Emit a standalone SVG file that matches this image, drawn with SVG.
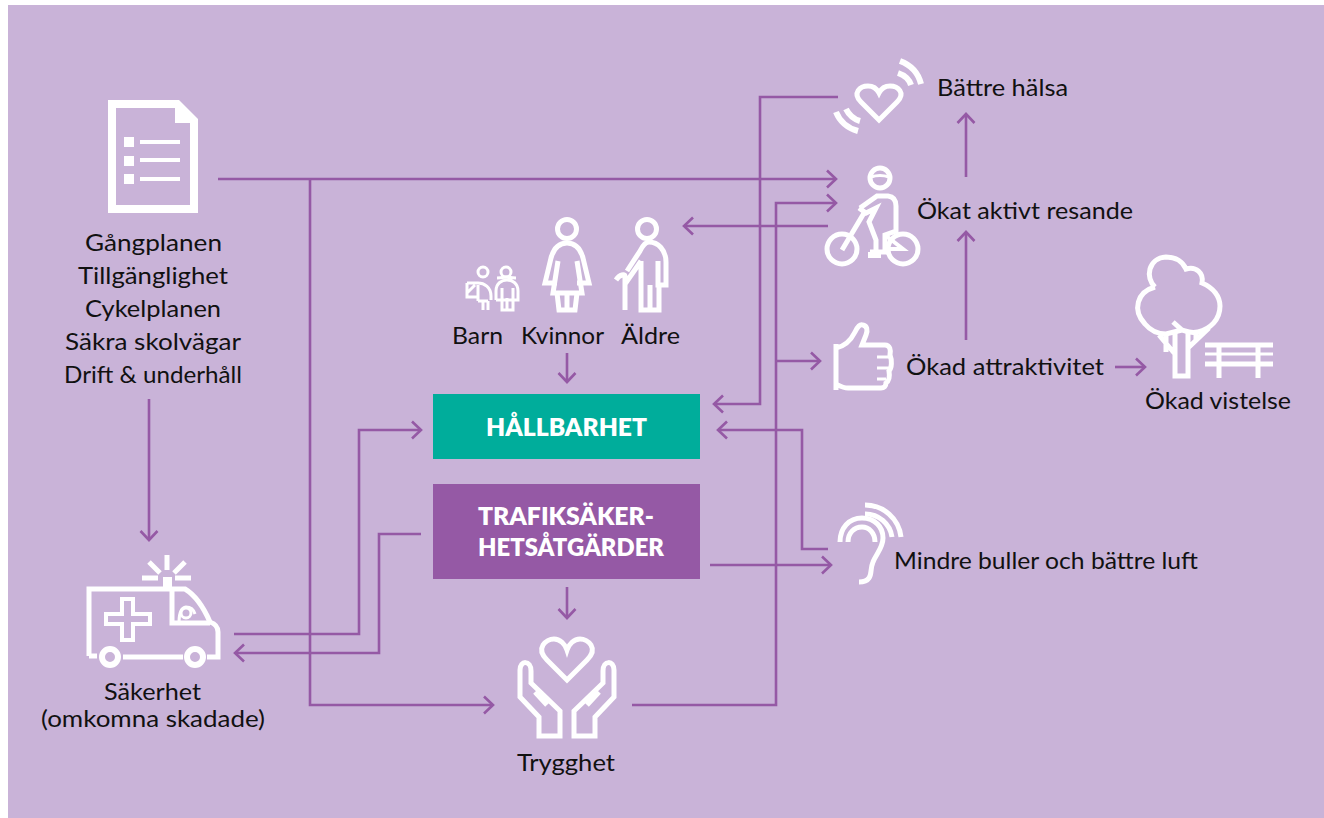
<svg xmlns="http://www.w3.org/2000/svg" width="1324" height="818" viewBox="0 0 1324 818">
<defs>
<marker id="a" markerUnits="userSpaceOnUse" markerWidth="24" markerHeight="24" refX="20" refY="12" orient="auto"><path d="M11 3.500L20 12L11 20.500" fill="none" stroke="#9559a5" stroke-width="2.600"/></marker>
</defs>
<style>
.c{fill:none;stroke:#9559a5;stroke-width:2.600;marker-end:url(#a)}
.i{fill:none;stroke:#fff;stroke-width:5}
.i6{fill:none;stroke:#fff;stroke-width:6}
.i4{fill:none;stroke:#fff;stroke-width:4}
.i3{fill:none;stroke:#fff;stroke-width:3}
.f{fill:#fff;stroke:none}
text{font-family:"Lato","Noto Sans",sans-serif;font-size:24px;fill:#111}
.s{font-size:22.500px}
.b{font-weight:800;fill:#fff;font-size:24px;text-anchor:middle}
</style>
<rect width="1324" height="818" fill="#fff"/>
<rect x="8" y="5" width="1316" height="813" fill="#c9b3d8"/>
<g id="connectors">
<path class="c" d="M218 179H836"/>
<path class="c" d="M310 179V705H493"/>
<path class="c" d="M149 399V540"/>
<path class="c" d="M234 634H359V430H421"/>
<path class="c" d="M421 534H379V653H235"/>
<path class="c" d="M710 565H831"/>
<path class="c" d="M567 587V618"/>
<path class="c" d="M567 353V382"/>
<path class="c" d="M632 705H776V203H836"/>
<path class="c" d="M776 361H820"/>
<path class="c" d="M838 97H760V404H714"/>
<path class="c" d="M828 226H684"/>
<path class="c" d="M828 549H802V430H718"/>
<path class="c" d="M966 340V232"/>
<path class="c" d="M966 177V114"/>
<path class="c" d="M1115 367H1145"/>
</g>
<g id="doc">
<path class="f" fill-rule="evenodd" d="M108 100H179L198 119V213H108ZM116 108V205H190V123H175V108Z"/>
<rect class="f" x="124" y="137" width="10" height="10"/><rect class="f" x="124" y="156" width="10" height="10"/><rect class="f" x="124" y="174" width="10" height="10"/>
<rect class="f" x="140" y="140" width="40" height="4"/><rect class="f" x="140" y="158" width="40" height="4"/><rect class="f" x="140" y="177" width="40" height="4"/>
<text x="85" y="251" textLength="137" lengthAdjust="spacingAndGlyphs">Gångplanen</text><text x="78" y="284" textLength="150" lengthAdjust="spacingAndGlyphs">Tillgänglighet</text><text x="85" y="317" textLength="136" lengthAdjust="spacingAndGlyphs">Cykelplanen</text><text x="65" y="350" textLength="176" lengthAdjust="spacingAndGlyphs">Säkra skolvägar</text><text x="64" y="383" textLength="178" lengthAdjust="spacingAndGlyphs">Drift &amp; underhåll</text>
</g>
<g id="heart-health">
<path class="i" d="M879 120L861 102C852 93 860 86 868 86C873 86 877 89 879 93C881 89 885 86 890 86C898 86 906 93 897 102Z"/>
<path class="i6" d="M900 61C911 65 918 72 921 84M898 73C904 75 909 79 911 85M836 112C840 122 847 128 858 131M846 109C849 115 853 119 860 121"/>
<text x="937" y="96" textLength="131" lengthAdjust="spacingAndGlyphs">Bättre hälsa</text>
</g>
<g id="cyclist">
<circle class="i" cx="880" cy="178" r="10"/><path class="i3" d="M871 177Q880 174 889 177"/>
<circle class="i" cx="842" cy="249" r="15"/><circle class="i" cx="903" cy="249" r="15"/>
<path class="i" d="M860 208L877 196H888Q896 197 896 206V231L885 235V252H870"/>
<path class="i" d="M859 208L866 213L876 208L869 222L876 240V252M864 213L842 250"/>
<path class="i4" d="M885 235L903 249H885"/>
<rect class="f" x="868" y="252" width="13" height="6"/>
<text x="917" y="219" textLength="216" lengthAdjust="spacingAndGlyphs">Ökat aktivt resande</text>
</g>
<g id="people">
<circle class="i3" cx="483" cy="272" r="5"/><circle class="i3" cx="506" cy="272" r="5"/>
<path class="i3" d="M467 283H478C484 283 491 287 491 296V300M467 283V297H479M467 293L475 285M478 285V301M483 301V310M488 301V310M478 301H488"/>
<path class="i3" d="M497 278C502 278 505 277 506 277C508 277 511 278 516 278M496 300V291C496 283 502 280 507 280C512 280 518 283 518 291V300H496M502 300V310H513V300M507 298V310M502 288V299M513 288V299"/>
<circle class="i" cx="567" cy="229" r="9.500"/>
<path class="i" d="M557 283H545L551 258C554 247 560 243 567 243C574 243 580 247 583 258L589 283H577M558 261L553 293H582L577 261M557 293L559 310H575L577 293M567 295V310"/>
<circle class="i" cx="647" cy="229" r="9.500"/>
<path class="i" d="M627 271L640 251C643 245 646 242 649 242C658 242 666 250 666 262V285H658V261M659 285V310H641V261M650 285V310M625 310V276C625 274 620 274 616 280M641 261L625 284"/>
<text x="452" y="344" textLength="51" lengthAdjust="spacingAndGlyphs">Barn</text><text x="521" y="344" textLength="83" lengthAdjust="spacingAndGlyphs">Kvinnor</text><text x="621" y="344" textLength="59" lengthAdjust="spacingAndGlyphs">Äldre</text>
</g>
<g id="hallbarhet"><rect x="433" y="394" width="267" height="65" fill="#00ad9b"/><text class="b" x="566.500" y="436" textLength="161" lengthAdjust="spacingAndGlyphs">HÅLLBARHET</text></g>
<g id="trafik"><rect x="433" y="484" width="267" height="95" fill="#9559a5"/><text class="b" x="566" y="525" textLength="176" lengthAdjust="spacingAndGlyphs">TRAFIKSÄKER-</text><text class="b" x="571" y="556" textLength="186" lengthAdjust="spacingAndGlyphs">HETSÅTGÄRDER</text></g>
<g id="thumb">
<path class="i" d="M836 344V390M836 348C846 346 851 340 855 332C858 326 860 324 863 325C867 326 868 330 866 335L862 345H885C890 345 891 350 890 355C892 360 892 368 889 371C890 377 889 381 886 383C886 386 884 388 881 388H848C843 388 840 386 836 384"/>
<path class="i3" d="M877 357H889M877 368H889M877 379H886"/>
<text x="906" y="375" textLength="198" lengthAdjust="spacingAndGlyphs">Ökad attraktivitet</text>
</g>
<g id="tree">
<path class="i" d="M1155 287C1145 278 1148 258 1166 257C1176 257 1183 262 1186 269C1196 266 1204 273 1202 283C1214 288 1220 297 1220 306C1220 320 1210 329 1198 332C1190 334 1186 331 1182 330L1173 322M1182 330L1166 334C1156 334 1150 330 1145 324C1132 310 1137 292 1155 287"/>
<path class="i" d="M1175 333V376H1188V332M1159 335L1175 354M1166 334V352M1188 348L1209 328M1196 334V340"/>
<path class="i" d="M1205 345H1273M1205 364H1273M1219 345V378M1258 345V378"/>
<path class="i3" d="M1205 354H1273"/>
<text x="1145" y="409" textLength="146" lengthAdjust="spacingAndGlyphs">Ökad vistelse</text>
</g>
<g id="ear">
<path class="i" d="M840 542C840 528 849 518 862 518C875 518 883 527 883 538C883 548 876 554 873 562C870 569 872 574 869 578C867 581 863 582 859 582"/>
<path class="i" d="M848 542C848 533 854 527 862 527C869 527 875 533 875 542"/>
<path class="i" d="M865 505A36 36 0 0 1 901 537M865 514A27 27 0 0 1 892 537"/>
<text x="894" y="569" textLength="304" lengthAdjust="spacingAndGlyphs">Mindre buller och bättre luft</text>
</g>
<g id="ambulance">
<path class="i" d="M89 656V589H185C195 595 203 606 210 622C216 624 218 628 218 632V657H207M172 589V623H210M123 657H183M89 656H97"/>
<circle class="i6" cx="110" cy="657" r="8"/><circle class="i6" cx="195" cy="657" r="8"/>
<circle class="i3" cx="186" cy="613" r="5"/><path class="i3" d="M179 622Q179 608 186 607Q193 607 195 614"/>
<path class="i4" d="M122 599H133V614H150V624H133V640H122V624H106V614H122Z"/>
<rect class="f" x="164.500" y="555" width="5" height="15"/>
<path class="i" d="M149 562L160 573M185 562L174 573M142 578H158M175 578H191"/>
<rect class="f" x="163" y="577" width="9" height="11"/>
<text class="s" x="104" y="700" textLength="97" lengthAdjust="spacingAndGlyphs">Säkerhet</text><text class="s" x="41" y="727" textLength="224" lengthAdjust="spacingAndGlyphs">(omkomna skadade)</text>
</g>
<g id="trygghet">
<path class="i" d="M567 680L547 660C535 648 546 639 554 639C560 639 565 644 567 650C569 644 574 639 580 639C588 639 599 648 587 660Z"/>
<path class="i" d="M520 670V697L539 717V736H560V711L531 683V671C531 660 520 660 520 670M535 692L547 705"/>
<path class="i" d="M614 670V697L595 717V736H574V711L603 683V671C603 660 614 660 614 670M599 692L587 705"/>
<text x="517" y="771" textLength="98" lengthAdjust="spacingAndGlyphs">Trygghet</text>
</g>
</svg>
